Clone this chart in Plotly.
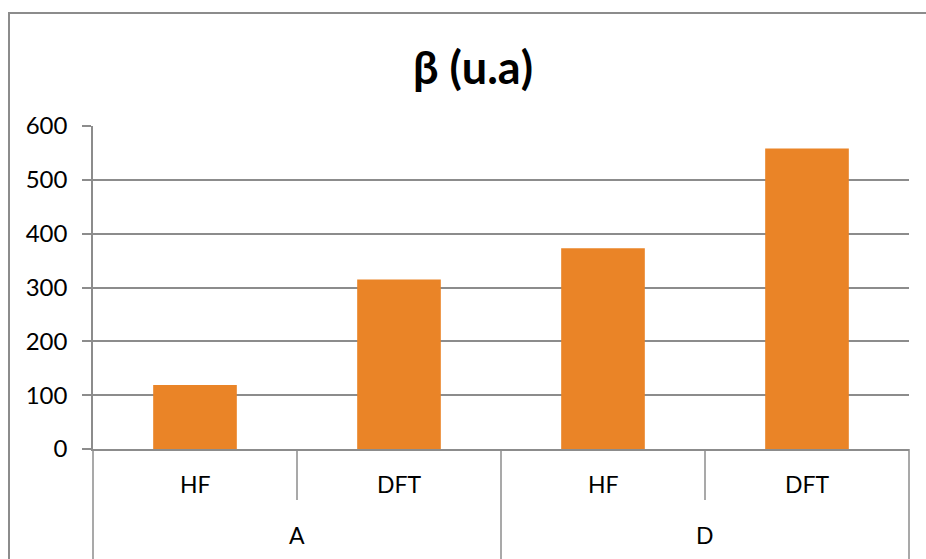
import plotly.graph_objects as go

# Molecules (outer level) and methods (inner level) of the category axis
molecules = ["A", "A", "D", "D"]
methods = ["HF", "DFT", "HF", "DFT"]
beta_values = [119, 315, 373, 558]

y_ticks = [0, 100, 200, 300, 400, 500, 600]

grey = "#8c8c8c"
font_family = "Lato, 'Open Sans', 'Liberation Sans', sans-serif"

# Plot-area geometry in pixels, used to place the two-level category labels
PLOT_LEFT, PLOT_RIGHT, PLOT_TOP, PLOT_BOTTOM = 93, 909, 126, 449
WIDTH, HEIGHT = 926, 559
plot_h = PLOT_BOTTOM - PLOT_TOP


def below_axis(px):
    """Paper y coordinate of a point px pixels below the category axis."""
    return -px / plot_h


fig = go.Figure()
fig.add_trace(go.Bar(
    x=[molecules, methods],
    y=beta_values,
    marker=dict(color="#EA8427", line=dict(width=0)),
    showlegend=False,
))

fig.update_layout(
    width=WIDTH,
    height=HEIGHT,
    margin=dict(l=PLOT_LEFT, r=WIDTH - PLOT_RIGHT, t=PLOT_TOP, b=HEIGHT - PLOT_BOTTOM),
    paper_bgcolor="white",
    plot_bgcolor="white",
    bargap=0.59,
    title=dict(
        text="<b>β (u.a)</b>",
        x=473 / WIDTH,
        xanchor="center",
        y=1 - 68 / HEIGHT,
        yanchor="middle",
        font=dict(family=font_family, size=45, color="black"),
    ),
    font=dict(family=font_family, size=23, color="black"),
)

fig.update_yaxes(
    range=[0, 600],
    tickvals=y_ticks,
    tickfont=dict(size=24),
    ticklabelstandoff=10,
    showgrid=True,
    gridcolor=grey,
    gridwidth=1.5,
    showline=True,
    linecolor=grey,
    linewidth=1.5,
    ticks="outside",
    ticklen=9,
    tickcolor=grey,
    tickwidth=1.5,
    zeroline=False,
    fixedrange=True,
)

fig.update_xaxes(
    type="multicategory",
    showline=True,
    linecolor=grey,
    linewidth=1.5,
    ticks="",
    showticklabels=False,
    showdividers=False,
    fixedrange=True,
)

n = len(methods)

# Inner-level labels and the short separators between methods of a molecule
for i, name in enumerate(methods):
    fig.add_annotation(
        xref="paper", yref="paper",
        x=(i + 0.5) / n, y=below_axis(35),
        text=name, showarrow=False,
        xanchor="center", yanchor="middle",
        font=dict(size=23, color="black"),
    )
    if i > 0 and molecules[i] == molecules[i - 1]:
        fig.add_shape(
            type="line", xref="paper", yref="paper",
            x0=i / n, x1=i / n, y0=0, y1=below_axis(51),
            line=dict(color=grey, width=1.5),
        )

# Outer-level labels and the full-height group dividers
groups = []
for i, m in enumerate(molecules):
    if not groups or groups[-1][0] != m:
        groups.append([m, i, i])
    else:
        groups[-1][2] = i

for m, start, end in groups:
    fig.add_annotation(
        xref="paper", yref="paper",
        x=(start + end + 1) / 2 / n, y=below_axis(86),
        text=m, showarrow=False,
        xanchor="center", yanchor="middle",
        font=dict(size=23, color="black"),
    )

for edge in sorted({g[1] for g in groups} | {n}):
    fig.add_shape(
        type="line", xref="paper", yref="paper",
        x0=edge / n, x1=edge / n, y0=0, y1=below_axis(130),
        line=dict(color=grey, width=1.5),
    )

# Chart-area frame
fig.add_shape(
    type="rect",
    xref="paper", yref="paper",
    x0=(9 - PLOT_LEFT) / (PLOT_RIGHT - PLOT_LEFT), x1=1.1,
    y0=-0.5, y1=(PLOT_BOTTOM - 13) / plot_h,
    line=dict(color=grey, width=2),
    fillcolor="rgba(0,0,0,0)",
    layer="below",
)

fig.write_html("out.html")
